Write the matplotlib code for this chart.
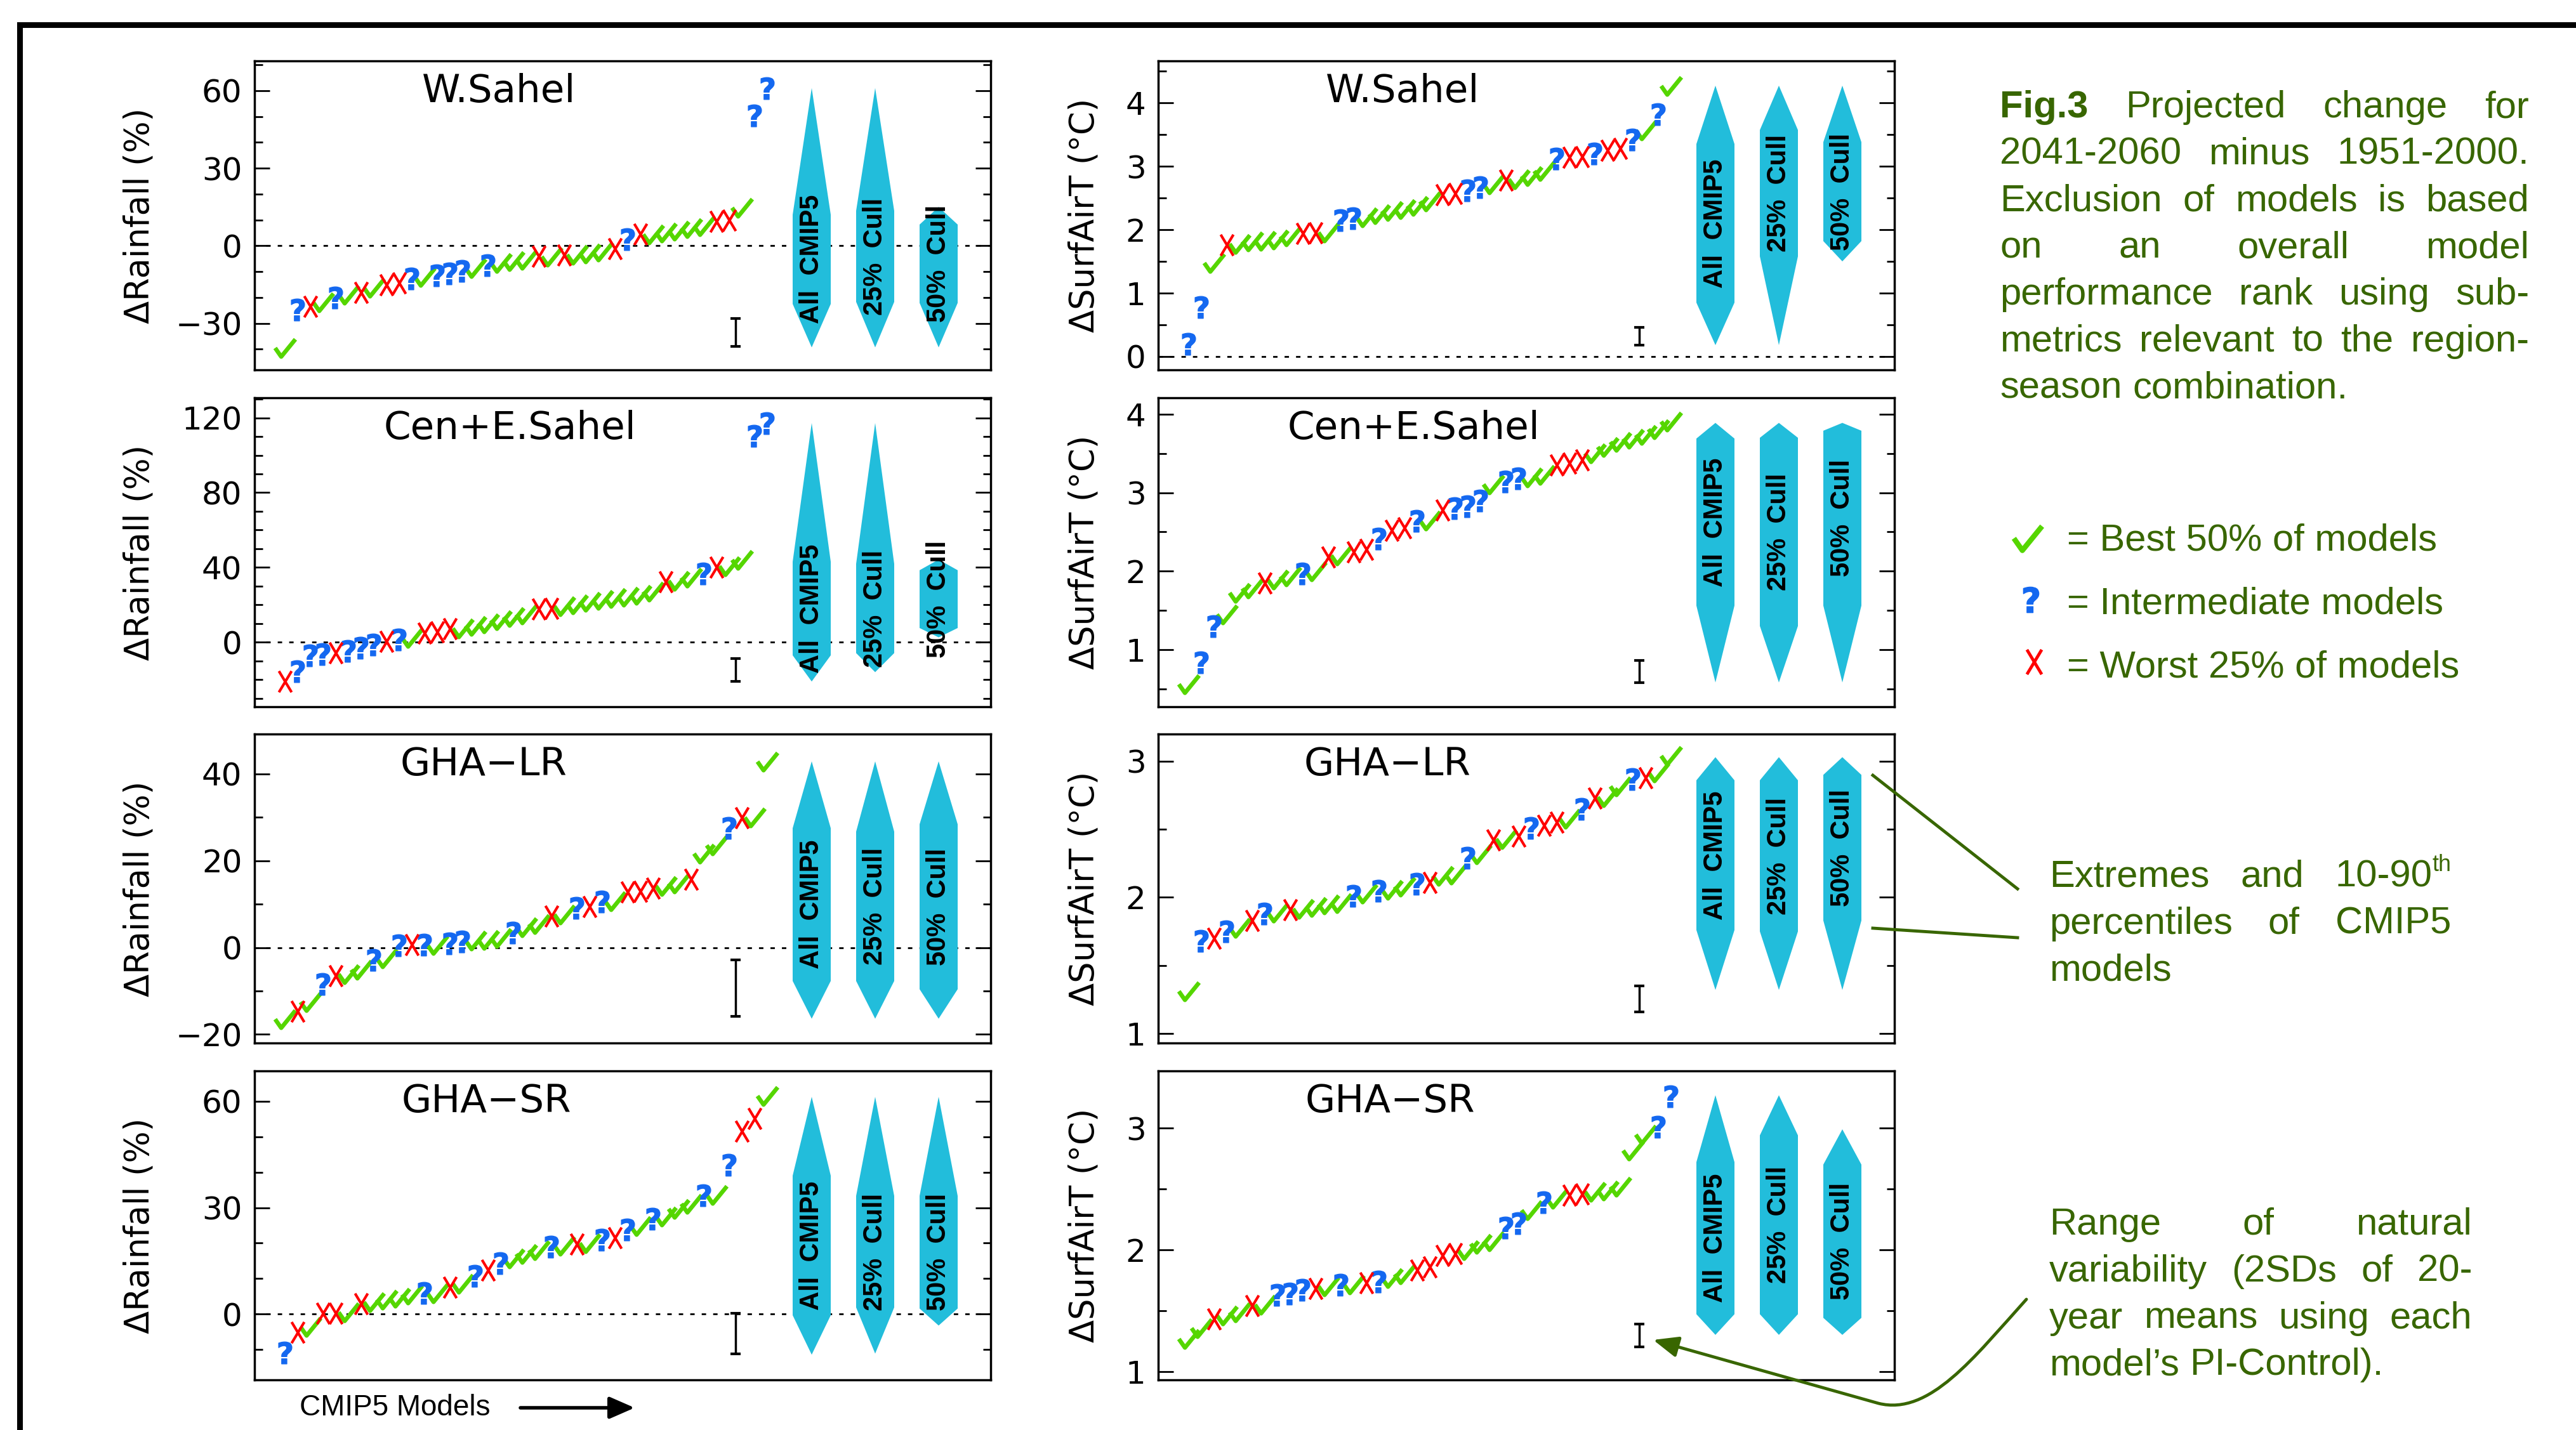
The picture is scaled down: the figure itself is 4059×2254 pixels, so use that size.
import numpy as np
import matplotlib
matplotlib.use("Agg")
import matplotlib.pyplot as plt
from matplotlib.path import Path
from matplotlib.patches import FancyArrowPatch
from matplotlib.ticker import MultipleLocator

# models sorted by projected change; C = best 50%, Q = intermediate, X = worst 25%
ws_rain_cat = "CQXCQCXCXXQCQQQCQCCCXCXCCCXQXCCCCCXXCQQ"
ws_rain = [-39.3, -24.6, -23.4, -21.7, -20.1, -18.9, -18.0, -16.0, -15.2, -14.3,
           -12.7, -12.0, -11.5, -10.7, -9.8, -8.6, -7.4, -6.6, -5.7, -5.3,
           -4.1, -4.0, -3.7, -3.3, -2.9, -2.0, -1.2, 2.5, 4.5, 4.6,
           5.3, 6.1, 7.0, 7.8, 9.4, 9.8, 14.8, 50.4, 61.0]
ws_rain_box = [[-39.3, -22.5, 12.0, 61.0], [-39.3, -21.7, 13.5, 61.0], [-39.3, -22.1, 8.2, 15.0]]
ws_rain_nat = [-38.9, -28.1]

ce_rain_cat = "XQQQXQQQXQCXXXCCCCCCXXCCCCCCCCXCCQXCCQQ"
ce_rain = [-21.0, -15.4, -7.0, -6.2, -5.5, -4.7, -3.0, -1.3, 0.3, 1.5,
           2.6, 4.8, 5.4, 7.1, 7.6, 8.8, 10.4, 12.1, 13.8, 14.9,
           17.8, 18.1, 19.4, 20.6, 21.7, 22.8, 23.9, 24.5, 25.6, 27.3,
           32.4, 32.9, 34.6, 36.9, 40.2, 40.8, 44.2, 110.4, 117.2]
ce_rain_box = [[-21.0, -7.0, 43.0, 117.2], [-16.0, -5.8, 41.9, 117.2], [2.6, 7.6, 38.5, 44.2]]
ce_rain_nat = [-21.0, -8.7]

lr_rain_cat = "CXCQXCCQCQXQCQQCCCQCCXCQXQCXXXCCXCCQXCC"
lr_rain = [-16.4, -14.7, -12.5, -8.4, -6.5, -6.0, -5.1, -2.9, -2.4, 0.5,
           0.6, 0.6, 0.7, 1.0, 1.4, 1.7, 1.8, 2.2, 3.4, 4.8,
           5.5, 7.2, 7.7, 9.2, 9.4, 10.6, 10.8, 12.8, 13.0, 13.7,
           14.2, 14.9, 15.7, 21.7, 23.6, 27.5, 29.9, 30.1, 42.9]
lr_rain_box = [[-16.4, -7.7, 27.5, 42.9], [-16.4, -7.7, 26.7, 42.9], [-16.4, -9.6, 28.4, 42.9]]
lr_rain_nat = [-15.9, -2.9]

sr_rain_cat = "QXCXXCXCCCCQCXCQXQCCCQCXCQXQCQCCCQCQXXC"
sr_rain = [-10.8, -5.1, -3.5, 0.2, 0.3, 0.6, 2.9, 3.5, 4.1, 4.8,
           5.7, 5.9, 6.0, 7.6, 8.6, 10.8, 12.4, 14.3, 15.8, 17.1,
           18.1, 19.0, 19.3, 19.8, 20.0, 20.9, 21.5, 23.8, 25.0, 26.9,
           27.6, 29.8, 31.1, 33.4, 33.6, 42.1, 51.6, 55.1, 61.5]
sr_rain_box = [[-11.4, -0.3, 39.0, 61.2], [-11.1, 1.9, 33.3, 61.2], [-3.2, 1.6, 33.3, 61.2]]
sr_rain_nat = [-11.2, 0.3]

ws_tas_cat = "QQCXCCCCCXXCQQCCCCCCXXQQCXCCCQXXQXXQCQC"
ws_tas = [0.20, 0.78, 1.48, 1.76, 1.78, 1.82, 1.83, 1.85, 1.90, 1.94,
          1.95, 1.96, 2.15, 2.18, 2.20, 2.25, 2.30, 2.33, 2.38, 2.45,
          2.55, 2.57, 2.62, 2.67, 2.72, 2.78, 2.80, 2.85, 2.93, 3.12,
          3.14, 3.15, 3.20, 3.25, 3.28, 3.42, 3.57, 3.82, 4.27]
ws_tas_box = [[0.18, 0.85, 3.35, 4.27], [0.18, 1.58, 3.57, 4.27], [1.50, 1.82, 3.38, 4.27]]
ws_tas_nat = [0.18, 0.46]

ce_tas_cat = "CQQCCCXCCQCXCXXQXXQCXQQQCQQCCXXXCCCCCCC"
ce_tas = [0.56, 0.84, 1.30, 1.45, 1.73, 1.78, 1.85, 1.90, 1.94, 1.97,
          2.00, 2.18, 2.20, 2.24, 2.28, 2.41, 2.52, 2.55, 2.64, 2.65,
          2.78, 2.80, 2.83, 2.90, 3.11, 3.14, 3.18, 3.20, 3.23, 3.35,
          3.38, 3.42, 3.51, 3.59, 3.65, 3.69, 3.74, 3.81, 3.91]
ce_tas_box = [[0.58, 1.56, 3.69, 3.89], [0.58, 1.30, 3.70, 3.89], [0.58, 1.56, 3.79, 3.89]]
ce_tas_nat = [0.58, 0.86]

lr_tas_cat = "CQXQCXQCXCCCCQCQCCQXCCQCXCXQXXCQXCCQXCC"
lr_tas = [1.31, 1.68, 1.70, 1.75, 1.78, 1.83, 1.88, 1.89, 1.91, 1.92,
          1.93, 1.95, 1.96, 2.01, 2.03, 2.05, 2.06, 2.08, 2.10, 2.11,
          2.16, 2.17, 2.29, 2.32, 2.42, 2.43, 2.45, 2.51, 2.53, 2.55,
          2.58, 2.65, 2.73, 2.74, 2.82, 2.87, 2.88, 2.92, 3.04]
lr_tas_box = [[1.32, 1.76, 2.86, 3.03], [1.32, 1.75, 2.86, 3.03], [1.32, 1.83, 2.90, 3.03]]
lr_tas_nat = [1.16, 1.35]

sr_tas_cat = "CCXCCXCQQQXCQCXQCCXXXXCCCQQCQCXXCCCCCQQ"
sr_tas = [1.27, 1.36, 1.43, 1.46, 1.49, 1.54, 1.55, 1.63, 1.64, 1.67,
          1.68, 1.70, 1.71, 1.72, 1.73, 1.74, 1.77, 1.80, 1.83, 1.86,
          1.95, 1.97, 2.00, 2.05, 2.07, 2.18, 2.22, 2.33, 2.39, 2.42,
          2.45, 2.46, 2.48, 2.49, 2.52, 2.82, 2.95, 3.01, 3.26]
sr_tas_box = [[1.30, 1.47, 2.72, 3.27], [1.30, 1.47, 2.94, 3.27], [1.30, 1.44, 2.70, 2.99]]
sr_tas_nat = [1.20, 1.39]

titles = ["W.Sahel", "Cen+E.Sahel", "GHA\u2212LR", "GHA\u2212SR"]
box_labels = ["All  CMIP5", "25%  Cull", "50%  Cull"]
ylabels = ["\u0394Rainfall (%)", "\u0394SurfAirT (\u00b0C)"]

caption = ["Fig.3 Projected change for",
           "2041-2060 minus 1951-2000.",
           "Exclusion of models is based",
           "on an overall model",
           "performance rank using sub-",
           "metrics relevant to the region-",
           "season combination."]
legend_labels = ["= Best 50% of models", "= Intermediate models", "= Worst 25% of models"]
note_range = ["Extremes and 10-90^th", "percentiles of CMIP5", "models"]
note_nat = ["Range of natural", "variability (2SDs of 20-",
            "year means using each", "model\u2019s PI-Control)."]

panels = [
    (ws_rain_cat, ws_rain, ws_rain_box, ws_rain_nat),
    (ce_rain_cat, ce_rain, ce_rain_box, ce_rain_nat),
    (lr_rain_cat, lr_rain, lr_rain_box, lr_rain_nat),
    (sr_rain_cat, sr_rain, sr_rain_box, sr_rain_nat),
    (ws_tas_cat, ws_tas, ws_tas_box, ws_tas_nat),
    (ce_tas_cat, ce_tas, ce_tas_box, ce_tas_nat),
    (lr_tas_cat, lr_tas, lr_tas_box, lr_tas_nat),
    (sr_tas_cat, sr_tas, sr_tas_box, sr_tas_nat),
]
ylims = [(-48, 71.5), (-34.5, 130.7), (-22, 49.2), (-18.5, 68.5),
         (-0.21, 4.66), (0.27, 4.21), (0.93, 3.2), (0.93, 3.47)]
majors = [30, 40, 20, 30, 1, 1, 1, 1]
minors = [10, 10, 10, 10, 0.5, 0.5, 0.5, 0.5]
title_x = [0.332, 0.347, 0.311, 0.315]

# ---- styling ----
W, H = 4059, 2254
col_x = [401, 1825]
col_w = 1160
row_top = [96, 627, 1157, 1688]
row_h = 487
label_x = [-0.134, -0.078]

GREEN = "#386600"
CHECK_C = "#55d600"
Q_C = "#1468f0"
X_C = "#ff0000"
CYAN = "#22bddb"
SANS = "Liberation Sans"

CHECK = Path([(-0.5, 0.0), (-0.2, -0.43), (0.5, 0.43)])
XMARK = Path([(-0.3, -0.5), (0.3, 0.5), (-0.3, 0.5), (0.3, -0.5)],
             [Path.MOVETO, Path.LINETO, Path.MOVETO, Path.LINETO])


def marks(ax, x, y, kind, s=1.0):
    if kind == "C":
        ax.plot(x, y, ls="none", marker=CHECK, ms=23 * s, mfc="none",
                mec=CHECK_C, mew=4.8 * s, zorder=4)
    elif kind == "Q":
        ax.plot(x, y, ls="none", marker=r"$\mathbf{?}$", ms=25 * s,
                mfc=Q_C, mec=Q_C, mew=0.9, zorder=4)
    else:
        ax.plot(x, y, ls="none", marker=XMARK, ms=24 * s, mfc="none",
                mec=X_C, mew=3.0 * s, zorder=4)


fig = plt.figure(figsize=(W / 100, H / 100), dpi=100)

for i, (cat, vals, boxes, nat) in enumerate(panels):
    col, row = i // 4, i % 4
    ax = fig.add_axes([col_x[col] / W, 1 - (row_top[row] + row_h) / H, col_w / W, row_h / H])
    x = np.arange(1, len(vals) + 1)
    v = np.array(vals)
    c = np.array(list(cat))
    ax.axhline(0, color="k", lw=2, ls=(0, (2.5, 4)), zorder=1)
    for k in "CQX":
        m = c == k
        marks(ax, x[m], v[m], k)
    for xc, lab, (lo, p10, p90, hi) in zip([42.5, 47.5, 52.5], box_labels, boxes):
        ax.fill([xc, xc + 1.5, xc + 1.5, xc, xc - 1.5, xc - 1.5],
                [hi, p90, p10, lo, p10, p90], color=CYAN, lw=0, zorder=3)
        ax.text(xc, (p10 + p90) / 2, lab, rotation=90, ha="center", va="center",
                fontsize=30, fontweight="bold", family=SANS, zorder=5)
    ax.errorbar(36.5, np.mean(nat), yerr=(nat[1] - nat[0]) / 2, fmt="none",
                ecolor="k", elinewidth=2.5, capsize=6, capthick=3, zorder=4)
    ax.set_xlim(-1.4, 56.6)
    ax.set_ylim(*ylims[i])
    ax.set_xticks([])
    ax.yaxis.set_major_locator(MultipleLocator(majors[i]))
    ax.yaxis.set_minor_locator(MultipleLocator(minors[i]))
    ax.tick_params(which="both", direction="in", left=True, right=True,
                   labelsize=36, pad=14, width=2)
    ax.tick_params(which="major", length=17)
    ax.tick_params(which="minor", length=9)
    for sp in ax.spines.values():
        sp.set_linewidth(2.5)
    ax.text(title_x[row], 0.96, titles[row], transform=ax.transAxes,
            ha="center", va="top", fontsize=44)
    ax.set_ylabel(ylabels[col], fontsize=38)
    ax.yaxis.set_label_coords(label_x[col], 0.5)

# overlay in pixel coordinates for frame, legend and notes
ov = fig.add_axes([0, 0, 1, 1], zorder=10)
ov.set_xlim(0, W)
ov.set_ylim(H, 0)
ov.axis("off")

ov.plot([31, W], [39, 39], color="k", lw=6.5, solid_capstyle="projecting")
ov.plot([31, 31], [39, H], color="k", lw=6.5, solid_capstyle="projecting")

rend = fig.canvas.get_renderer()


def justify(lines, x0, x1, y0, dy, size=43, bold=()):
    for i, line in enumerate(lines):
        y = y0 + i * dy
        parts = []
        for w in line.split():
            base, _, sup = w.partition("^")
            t = ov.text(0, y, base, fontsize=size, color=GREEN, family=SANS,
                        fontweight="bold" if base in bold else "normal", va="baseline")
            wd = t.get_window_extent(rend).width
            items = [(t, 0.0)]
            if sup:
                s = ov.text(0, y - 0.42 * size * 100 / 72, sup, fontsize=size * 0.6,
                            color=GREEN, family=SANS, va="baseline")
                items.append((s, wd))
                wd += s.get_window_extent(rend).width
            parts.append((items, wd))
        total = sum(p[1] for p in parts)
        if len(parts) > 1 and i < len(lines) - 1:
            gap = (x1 - x0 - total) / (len(parts) - 1)
        else:
            gap = 0.28 * size * 100 / 72
        xx = x0
        for items, wd in parts:
            for t, off in items:
                t.set_x(xx + off)
            xx += wd + gap


justify(caption, 3151, 3985, 185, 73.7, bold=("Fig.3",))
justify(note_range, 3229, 3862, 1398, 74)
justify(note_nat, 3229, 3895, 1946, 73.8)

# legend
ov.plot([3195], [848], ls="none", marker=CHECK, ms=32, mfc="none", mec=CHECK_C, mew=6)
ov.plot([3200], [945], ls="none", marker=r"$\mathbf{?}$", ms=29, mfc=Q_C, mec=Q_C, mew=1)
ov.plot([3205], [1043], ls="none", marker=XMARK, ms=28, mfc="none", mec=X_C, mew=3.5)
for k, lab in enumerate(legend_labels):
    ov.text(3257, 868 + k * 99.5, lab, fontsize=43, color=GREEN, family=SANS, va="baseline")

# leader lines to the shapes
ov.plot([2951, 3179], [1222, 1401], color=GREEN, lw=3.5)
ov.plot([2951, 3179], [1463, 1478], color=GREEN, lw=3.5)

# curved arrow to the natural variability bar
curve = Path([(3193, 2048), (3110, 2140), (3040, 2232), (2960, 2212), (2605, 2112)],
             [Path.MOVETO, Path.CURVE4, Path.CURVE4, Path.CURVE4, Path.LINETO])
ov.add_patch(FancyArrowPatch(path=curve, arrowstyle="-|>,head_length=0.6,head_width=0.25",
                             mutation_scale=40, lw=3.5, color=GREEN))

# x axis note
ov.text(472, 2219, "CMIP5 Models", fontsize=33, family=SANS, va="center")
ov.annotate("", xy=(1000, 2219), xytext=(820, 2219),
            arrowprops=dict(arrowstyle="-|>,head_length=0.8,head_width=0.35",
                            lw=4, color="k", mutation_scale=30, shrinkA=0, shrinkB=0))

fig.savefig("out.png", dpi=100)
